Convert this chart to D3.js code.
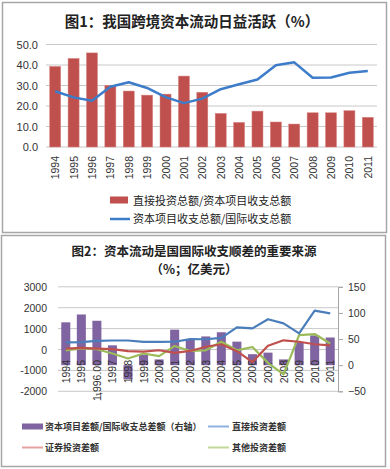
<!DOCTYPE html>
<html>
<head>
<meta charset="utf-8">
<script src="https://cdn.jsdelivr.net/npm/d3@7"></script>
<style>
body{margin:0;background:#fff;}
text{font-family:"Liberation Sans",Arial,sans-serif;}
.cn{font-family:"Noto Sans CJK SC","Noto Sans",sans-serif;}
</style>
</head>
<body>
<script>
var years = ["1994","1995","1996","1997","1998","1999","2000","2001","2002","2003","2004","2005","2006","2007","2008","2009","2010","2011"];
var years2 = ["1994","1995","1,996.00","1997","1998","1999","2000","2001","2002","2003","2004","2005","2006","2007","2008","2009","2010","2011"];

// chart 1
var fdiShare = [39.3,43.2,45.9,30.1,27.3,25.3,25.8,34.6,26.7,16.4,12.0,17.5,12.2,11.2,16.7,16.7,17.7,14.5];
var capShare = [27.2,24.2,22.6,29.4,31.6,28.8,24.3,21.4,23.6,28.2,30.6,32.9,39.9,41.3,33.8,33.9,36.2,37.1];
var yTicks1 = [0,10,20,30,40,50];

// chart 2
var capRatio = [82,97,85,38,-27,20,11,68,49,55,63,45,21,24,11,44,57,53];
var fdiNet = [340,350,410,430,430,365,365,370,495,490,560,1060,1010,1450,1250,770,1860,1730];
var portNet = [40,75,45,20,-80,-100,-35,-160,-70,130,250,-80,-600,180,440,370,250,200];
var otherNet = [-40,50,15,-190,-430,-190,-320,170,-70,-40,370,-40,120,-640,-1190,690,740,290];
var yTicksL = [-2000,-1000,0,1000,2000,3000];
var yTicksR = [-50,0,50,100,150];

var svg = d3.select("body").append("svg").attr("width",390).attr("height",469);

// frames
svg.append("rect").attr("x",2.5).attr("y",2.5).attr("width",384).attr("height",230)
  .attr("fill","none").attr("stroke","#a6a6a6").attr("stroke-width",1.5);
svg.append("rect").attr("x",1.5).attr("y",235.5).attr("width",384).attr("height",231)
  .attr("fill","none").attr("stroke","#a6a6a6").attr("stroke-width",1.5);

// ---------- chart 1 ----------
var x1 = d3.scaleBand().domain(years).range([46,377]).paddingInner(0.4).paddingOuter(0.2);
var y1 = d3.scaleLinear().domain([0,50]).range([147,44.5]);

svg.append("text").attr("class","cn").attr("x",192).attr("y",27).attr("text-anchor","middle")
  .attr("font-size",14.5).attr("font-weight","bold").attr("fill","#222")
  .text("图1：我国跨境资本流动日益活跃（%）");

svg.append("g").selectAll("line").data(yTicks1).enter().append("line")
  .attr("x1",46).attr("x2",377)
  .attr("y1",function(d){return y1(d);}).attr("y2",function(d){return y1(d);})
  .attr("stroke","#c8c8c8").attr("stroke-width",1);

svg.append("g").selectAll("text").data(yTicks1).enter().append("text")
  .attr("x",38).attr("y",function(d){return y1(d)+4;})
  .attr("text-anchor","end").attr("font-size",11).attr("fill","#333")
  .text(function(d){return d3.format(".1f")(d);});

svg.append("g").selectAll("rect").data(fdiShare).enter().append("rect")
  .attr("x",function(d,i){return x1(years[i]);})
  .attr("width",x1.bandwidth())
  .attr("y",function(d){return y1(d);})
  .attr("height",function(d){return y1(0)-y1(d);})
  .attr("fill","#c0504d").attr("stroke","#d98582").attr("stroke-width",0.5);

var line1 = d3.line()
  .x(function(d,i){return x1(years[i])+x1.bandwidth()/2;})
  .y(function(d){return y1(d);});
svg.append("path").attr("d",line1(capShare)).attr("fill","none")
  .attr("stroke","#3d7cc9").attr("stroke-width",2.5).attr("stroke-linejoin","round");

svg.append("g").selectAll("text").data(years).enter().append("text")
  .attr("transform",function(d){return "translate(" + (x1(d)+x1.bandwidth()/2+4) + ",156) rotate(-90)";})
  .attr("text-anchor","end").attr("font-size",10.5).attr("fill","#333")
  .text(function(d){return d;});

// legend 1
svg.append("rect").attr("x",110).attr("y",196.5).attr("width",18).attr("height",7).attr("fill","#c0504d");
svg.append("text").attr("class","cn").attr("x",133).attr("y",204.5).attr("font-size",11).attr("fill","#222")
  .text("直接投资总额/资本项目收支总额");
svg.append("line").attr("x1",110).attr("x2",130).attr("y1",219).attr("y2",219)
  .attr("stroke","#3d7cc9").attr("stroke-width",2.5);
svg.append("text").attr("class","cn").attr("x",133).attr("y",223).attr("font-size",11).attr("fill","#222")
  .text("资本项目收支总额/国际收支总额");

// ---------- chart 2 ----------
var x2 = d3.scaleBand().domain(years2).range([58,338]).paddingInner(0.42).paddingOuter(0.21);
var yL = d3.scaleLinear().domain([-2000,3000]).range([391.3,286.8]);
var yR = d3.scaleLinear().domain([-50,150]).range([391.3,286.8]);

svg.append("text").attr("class","cn").attr("x",194).attr("y",255.5).attr("text-anchor","middle")
  .attr("font-size",12.5).attr("font-weight","bold").attr("fill","#222")
  .text("图2：资本流动是国国际收支顺差的重要来源");
svg.append("text").attr("class","cn").attr("x",194).attr("y",274).attr("text-anchor","middle")
  .attr("font-size",12.5).attr("font-weight","bold").attr("fill","#222")
  .text("（%；亿美元）");

svg.append("g").selectAll("line").data(yTicksL).enter().append("line")
  .attr("x1",58).attr("x2",338)
  .attr("y1",function(d){return yL(d);}).attr("y2",function(d){return yL(d);})
  .attr("stroke","#c8c8c8").attr("stroke-width",1);

svg.append("g").selectAll("text").data(yTicksL).enter().append("text")
  .attr("x",47).attr("y",function(d){return yL(d)+4;})
  .attr("text-anchor","end").attr("font-size",10.5).attr("fill","#333")
  .text(function(d){return d;});

var axisR = d3.axisRight(yR).tickValues(yTicksR).tickSize(5).tickPadding(5);
var gR = svg.append("g").attr("transform","translate(338,0)").call(axisR);
gR.select(".domain").attr("stroke","#a6a6a6");
gR.selectAll(".tick line").attr("stroke","#a6a6a6");
gR.selectAll(".tick text").attr("font-size",10.5).attr("fill","#333")
  .attr("font-family","Liberation Sans, Arial, sans-serif");

svg.append("g").selectAll("rect").data(capRatio).enter().append("rect")
  .attr("x",function(d,i){return x2(years2[i]);})
  .attr("width",x2.bandwidth())
  .attr("y",function(d){return yR(Math.max(0,d));})
  .attr("height",function(d){return Math.abs(yR(0)-yR(d));})
  .attr("fill","#8064a2");

svg.append("g").selectAll("text").data(years2).enter().append("text")
  .attr("transform",function(d){return "translate(" + (x2(d)+x2.bandwidth()/2+4) + ",360) rotate(-90)";})
  .attr("text-anchor","end").attr("font-size",10.5).attr("fill","#333")
  .text(function(d){return d;});

svg.append("text").attr("transform","translate(101,392) rotate(-90)")
  .attr("text-anchor","end").attr("font-size",8).attr("fill","#333").text("1");

var line2 = d3.line()
  .x(function(d,i){return x2(years2[i])+x2.bandwidth()/2;})
  .y(function(d){return yL(d);});
var series2 = [
  {v:otherNet,c:"#9bbb59"},
  {v:portNet,c:"#c0504d"},
  {v:fdiNet,c:"#4a7ebb"}
];
svg.append("g").selectAll("path").data(series2).enter().append("path")
  .attr("d",function(d){return line2(d.v);})
  .attr("fill","none").attr("stroke",function(d){return d.c;})
  .attr("stroke-width",2.2).attr("stroke-linejoin","round");

// legend 2
svg.append("rect").attr("x",22).attr("y",423.5).attr("width",21).attr("height",6).attr("fill","#8064a2");
svg.append("text").attr("class","cn").attr("x",45).attr("y",430).attr("font-size",9).attr("font-weight","bold").attr("fill","#333")
  .text("资本项目差额/国际收支总差额（右轴）");
svg.append("line").attr("x1",208).attr("x2",229).attr("y1",426.5).attr("y2",426.5).attr("stroke","#8fb1df").attr("stroke-width",2);
svg.append("text").attr("class","cn").attr("x",232).attr("y",430).attr("font-size",9).attr("font-weight","bold").attr("fill","#333")
  .text("直接投资差额");
svg.append("line").attr("x1",22).attr("x2",43).attr("y1",447.5).attr("y2",447.5).attr("stroke","#e6a0a0").attr("stroke-width",2);
svg.append("text").attr("class","cn").attr("x",45).attr("y",451).attr("font-size",9).attr("font-weight","bold").attr("fill","#333")
  .text("证券投资差额");
svg.append("line").attr("x1",208).attr("x2",229).attr("y1",447.5).attr("y2",447.5).attr("stroke","#c2d89a").attr("stroke-width",2);
svg.append("text").attr("class","cn").attr("x",232).attr("y",451).attr("font-size",9).attr("font-weight","bold").attr("fill","#333")
  .text("其他投资差额");
</script>
</body>
</html>
